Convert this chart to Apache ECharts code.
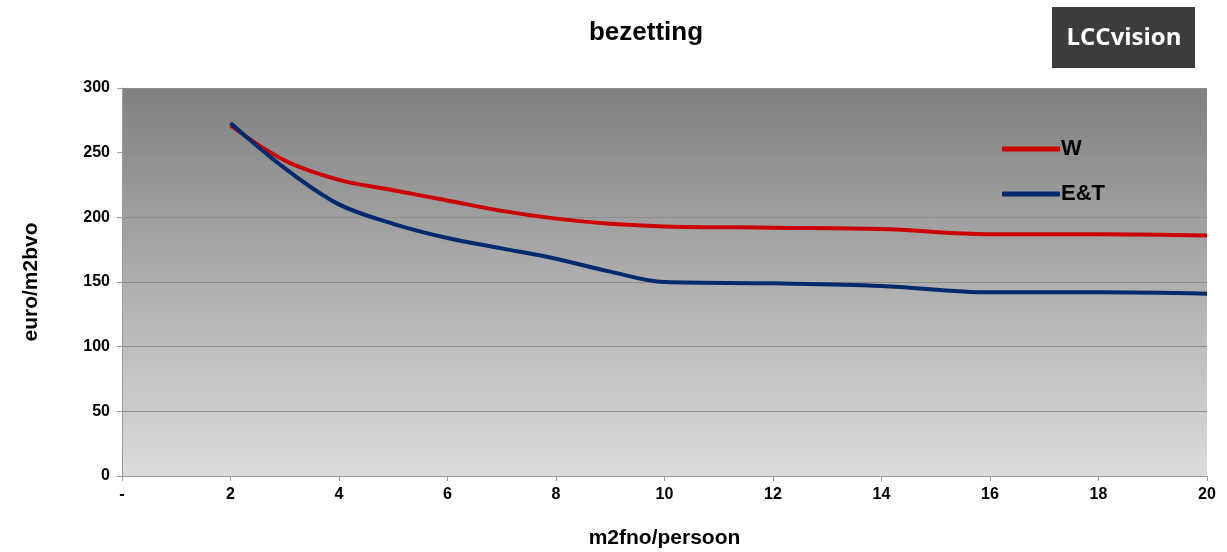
<!DOCTYPE html>
<html>
<head>
<meta charset="utf-8">
<script src="https://cdn.jsdelivr.net/npm/echarts@6/dist/echarts.min.js"></script>
<style>
body{margin:0;background:#fff;}
#chart{width:1227px;height:552px;}
</style>
</head>
<body>
<div id="chart"></div>
<script>
// m2fno/persoon
var xValues = [2, 3, 4, 5, 6, 7, 8, 9, 10, 12, 14, 16, 18, 20];
var wValues = [271, 244, 229, 221, 213, 205, 199, 195, 193, 192, 191, 187, 187, 186];
var etValues = [273, 238, 210, 195, 184, 176, 168, 158, 150, 149, 147, 142, 142, 141];

var pairs = function(xs, ys){
	var out = [];
	for(var i=0;i<xs.length;i++)
	{
		out.push([xs[i], ys[i]]);
	}
	return out;
}

var font = "Liberation Sans, Arial, sans-serif";
var chart = echarts.init(document.getElementById("chart"));

var option = {
	backgroundColor: '#ffffff',
	animation: false,
	title: {
		text: 'bezetting',
		left: 641,
		top: 15,
		textAlign: 'center',
		textStyle: {fontFamily: font, fontSize: 26, fontWeight: 'bold', color: '#000'}
	},
	graphic: [
		{
			type: 'rect',
			left: 1052, top: 7,
			shape: {width: 143, height: 61},
			style: {fill: '#3c3c3c'}
		},
		{
			type: 'text',
			x: 1124, y: 38,
			style: {text: 'LCCvision', fill: '#fff', font: 'bold 24px "Open Sans", sans-serif', align: 'center', verticalAlign: 'middle'}
		}
	],
	legend: {
		orient: 'vertical',
		left: 997,
		top: 133,
		itemWidth: 58,
		itemHeight: 5,
		itemGap: 23,
		icon: 'roundRect',
		textStyle: {fontFamily: font, fontSize: 22, fontWeight: 'bold', color: '#000', padding: [0,0,0,-4]},
		data: ['W', 'E&T']
	},
	grid: {
		left: 122, right: 20, top: 88, bottom: 76,
		outerBoundsMode: 'none',
		containLabel: false,
		show: true,
		borderWidth: 0,
		backgroundColor: new echarts.graphic.LinearGradient(0, 0, 0, 1, [
			{offset: 0, color: '#808080'},
			{offset: 1, color: '#dcdcdc'}
		])
	},
	xAxis: {
		type: 'value',
		min: 0, max: 20, interval: 2,
		name: 'm2fno/persoon',
		nameLocation: 'middle',
		nameGap: 52,
		nameTextStyle: {fontFamily: font, fontSize: 21, fontWeight: 'bold', color: '#000'},
		axisLine: {show: true, lineStyle: {color: '#9a9a9a', width: 1}},
		axisTick: {show: true, length: 5, lineStyle: {color: '#9a9a9a'}},
		splitLine: {show: false},
		axisLabel: {
			fontFamily: font, fontSize: 16, fontWeight: 'bold', color: '#000', margin: 11,
			formatter: function(v){ return v == 0 ? '-' : v; }
		}
	},
	yAxis: {
		type: 'value',
		min: 0, max: 300, interval: 50,
		name: 'euro/m2bvo',
		nameLocation: 'middle',
		nameGap: 80,
		nameTextStyle: {fontFamily: font, fontSize: 21, fontWeight: 'bold', color: '#000'},
		axisLine: {show: true, lineStyle: {color: '#9a9a9a', width: 1}},
		axisTick: {show: true, length: 5, lineStyle: {color: '#9a9a9a'}},
		splitLine: {show: true, lineStyle: {color: '#8c8c8c', width: 1}},
		axisLabel: {fontFamily: font, fontSize: 16, fontWeight: 'bold', color: '#000', margin: 12}
	},
	series: [
		{
			name: 'W',
			type: 'line',
			smooth: 0.35,
			showSymbol: false,
			color: '#cc0000',
			lineStyle: {width: 4, color: '#cc0000'},
			data: pairs(xValues, wValues)
		},
		{
			name: 'E&T',
			type: 'line',
			smooth: 0.35,
			showSymbol: false,
			color: '#002a6e',
			lineStyle: {width: 4, color: '#002a6e'},
			data: pairs(xValues, etValues)
		}
	]
};
chart.setOption(option);
</script>
</body>
</html>
